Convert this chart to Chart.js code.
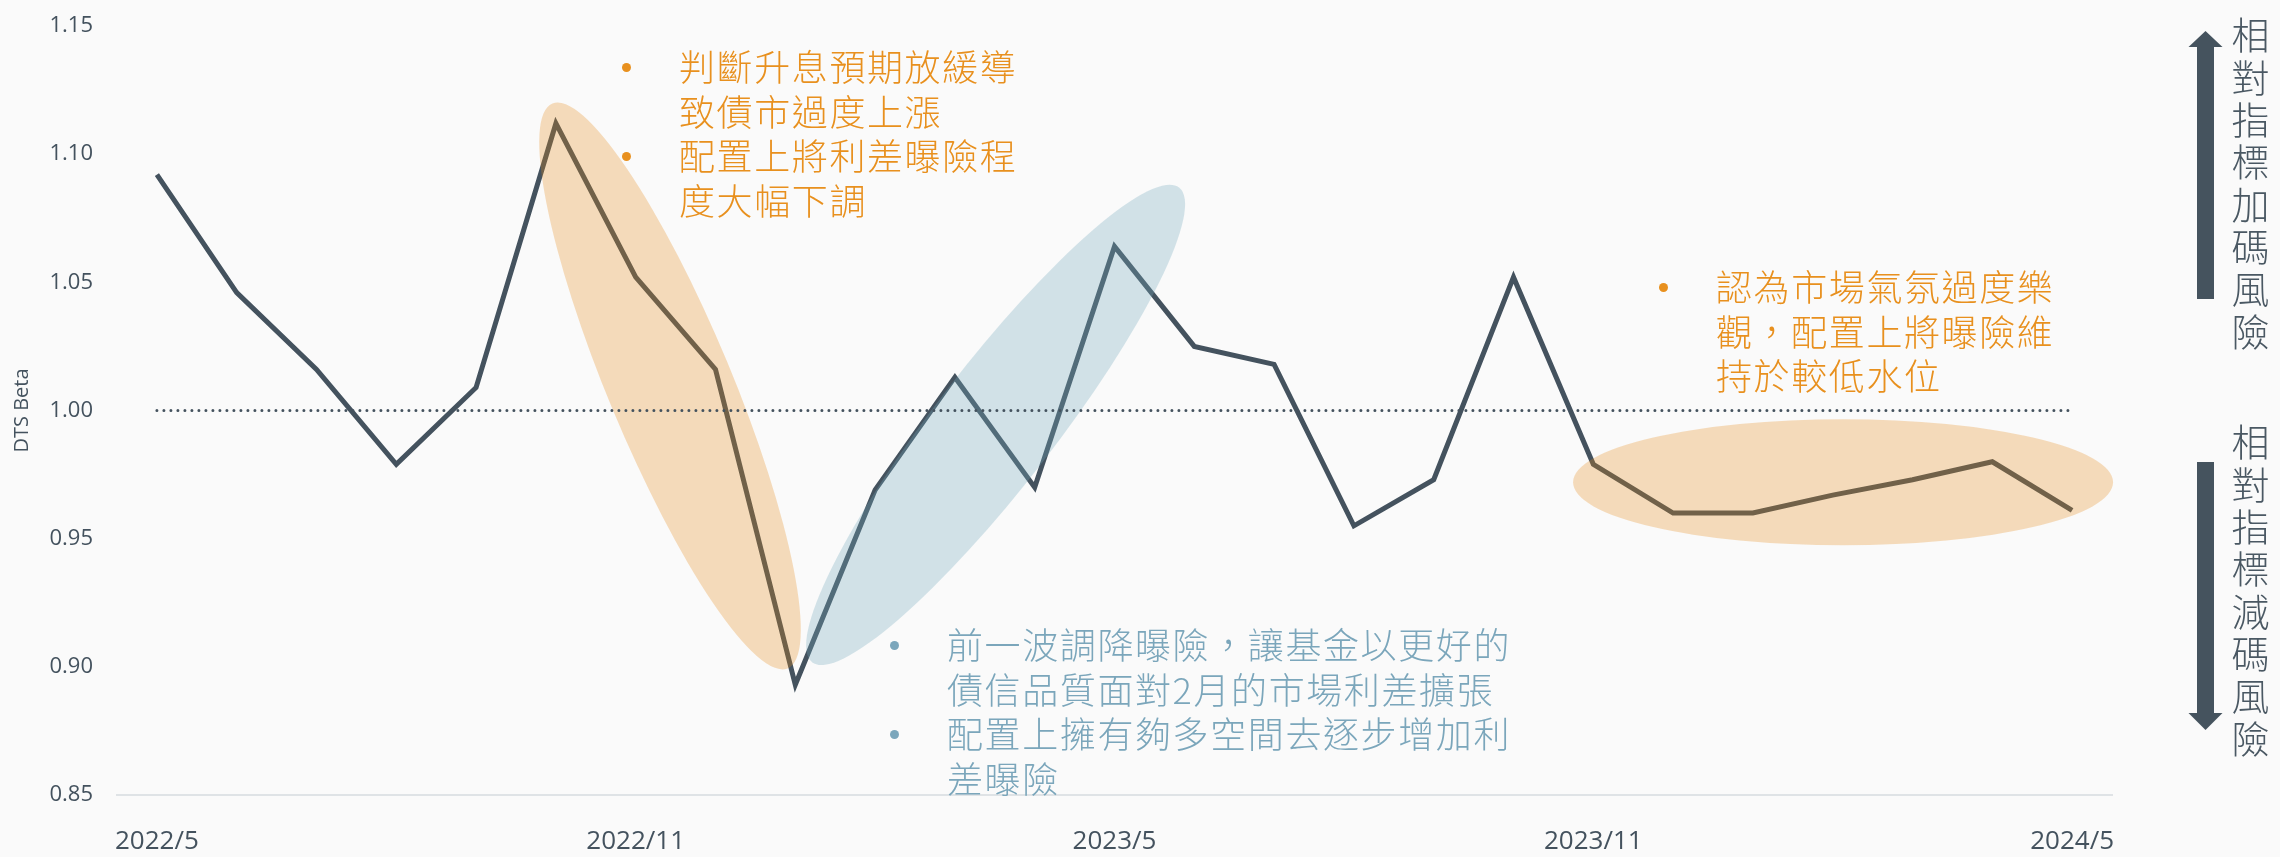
<!DOCTYPE html>
<html>
<head>
<meta charset="utf-8">
<script src="https://cdn.jsdelivr.net/npm/chart.js@4.4.1/dist/chart.umd.min.js"></script>
<style>
html, body { margin: 0; padding: 0; background: #fafafa; }
#wrap { position: relative; width: 2280px; height: 857px; overflow: hidden; }
#wrap canvas { position: absolute; left: 0; top: 0; }
.note { position: absolute; font-family: "Noto Sans CJK TC", "Noto Sans CJK SC", sans-serif; font-weight: 300; font-size: 36px; letter-spacing: 1.6px; }
.note div { position: relative; height: 44.5px; line-height: 44.5px; white-space: nowrap; }
.note .b::before { content: ''; position: absolute; left: -57px; top: calc(50% - 2.5px); width: 9px; height: 9px; border-radius: 50%; background: currentColor; }
.orange { color: #e8901e; }
.blue { color: #7ba6bb; }
.side { position: absolute; writing-mode: vertical-rl; font-family: "Noto Sans CJK TC", sans-serif; font-weight: 300; font-size: 38px; line-height: 38px; letter-spacing: 4.3px; color: #4a5863; }
</style>
</head>
<body>
<div id="wrap">
  <canvas id="dtsChart" width="2280" height="857"></canvas>

  <div class="note orange" style="left:679px; top:43px;">
    <div class="b">判斷升息預期放緩導</div>
    <div>致債市過度上漲</div>
    <div class="b">配置上將利差曝險程</div>
    <div>度大幅下調</div>
  </div>

  <div class="note blue" style="left:947px; top:621px;">
    <div class="b">前一波調降曝險，讓基金以更好的</div>
    <div>債信品質面對2月的市場利差擴張</div>
    <div class="b">配置上擁有夠多空間去逐步增加利</div>
    <div>差曝險</div>
  </div>

  <div class="note orange" style="left:1716px; top:263px;">
    <div class="b">認為市場氣氛過度樂</div>
    <div>觀，配置上將曝險維</div>
    <div>持於較低水位</div>
  </div>

  <div class="side" style="left:2231px; top:16px;">相對指標加碼風險</div>
  <div class="side" style="left:2231px; top:423px;">相對指標減碼風險</div>
</div>

<script>
var months = ['2022/5', '2022/6', '2022/7', '2022/8', '2022/9', '2022/10', '2022/11', '2022/12',
  '2023/1', '2023/2', '2023/3', '2023/4', '2023/5', '2023/6', '2023/7', '2023/8', '2023/9',
  '2023/10', '2023/11', '2023/12', '2024/1', '2024/2', '2024/3', '2024/4', '2024/5'];
var dtsBeta = [1.092, 1.046, 1.016, 0.979, 1.009, 1.112, 1.052, 1.016, 0.893, 0.969, 1.013, 0.970,
  1.064, 1.025, 1.018, 0.955, 0.973, 1.052, 0.979, 0.960, 0.960, 0.967, 0.973, 0.980, 0.961];
var xTickLabels = ['2022/5', '2022/11', '2023/5', '2023/11', '2024/5'];
var yTicks = [0.85, 0.90, 0.95, 1.00, 1.05, 1.10, 1.15];
var neutralLevel = 1.00;

// shaded highlight areas, centre in data units, radii in px
var highlights = [
  { x: 6.43, y: 1.0096, rx: 306, ry: 62, angle: 67.4, color: 'rgba(230,138,22,0.28)' },
  { x: 10.51, y: 0.9944, rx: 300, ry: 60, angle: -52.3, color: 'rgba(117,170,190,0.30)' },
  { x: 21.13, y: 0.972, rx: 270, ry: 63, angle: 0, color: 'rgba(230,138,22,0.28)' }
];

var slate = '#44525e';

function drawArrow(ctx, cx, shaftFrom, shaftTo, tip) {
  ctx.fillStyle = '#45535e';
  ctx.fillRect(cx - 8.5, Math.min(shaftFrom, shaftTo), 17, Math.abs(shaftTo - shaftFrom));
  var base = shaftFrom;
  ctx.beginPath();
  ctx.moveTo(cx - 17, base);
  ctx.lineTo(cx + 17, base);
  ctx.lineTo(cx, tip);
  ctx.closePath();
  ctx.fill();
}

var overlayPlugin = {
  id: 'overlay',
  afterDatasetsDraw: function (chart) {
    var ctx = chart.ctx;
    var x = chart.scales.x;
    var y = chart.scales.y;
    ctx.save();
    highlights.forEach(function (h) {
      ctx.beginPath();
      ctx.ellipse(x.getPixelForValue(h.x), y.getPixelForValue(h.y), h.rx, h.ry,
        h.angle * Math.PI / 180, 0, Math.PI * 2);
      ctx.fillStyle = h.color;
      ctx.fill();
    });

    // dotted neutral line
    var py = y.getPixelForValue(neutralLevel);
    ctx.beginPath();
    ctx.setLineDash([0, 7]);
    ctx.lineCap = 'round';
    ctx.lineWidth = 3;
    ctx.strokeStyle = slate;
    ctx.moveTo(x.getPixelForValue(0), py);
    ctx.lineTo(x.getPixelForValue(months.length - 1), py);
    ctx.stroke();
    ctx.setLineDash([]);

    drawArrow(ctx, 2205.5, 47, 299, 31);
    drawArrow(ctx, 2205.5, 713, 462, 730);
    ctx.restore();
  }
};

Chart.defaults.font.family = "'Open Sans', sans-serif";
Chart.defaults.color = slate;

var ctx = document.getElementById('dtsChart');
var myChart = new Chart(ctx, {
  type: 'line',
  data: {
    labels: months,
    datasets: [{
      label: 'DTS Beta',
      data: dtsBeta,
      borderColor: slate,
      borderWidth: 5,
      borderJoinStyle: 'miter',
      pointRadius: 0,
      tension: 0,
      fill: false
    }]
  },
  plugins: [overlayPlugin],
  options: {
    responsive: false,
    animation: false,
    devicePixelRatio: 1,
    layout: { padding: { left: 0, right: 168, top: 26, bottom: 0 } },
    plugins: { legend: { display: false }, tooltip: { enabled: false } },
    scales: {
      x: {
        offset: true,
        grid: { display: false, drawTicks: false },
        border: { display: true, color: '#dfe3e6', width: 2 },
        ticks: {
          autoSkip: false,
          maxRotation: 0,
          padding: 31,
          color: slate,
          font: { size: 26 },
          callback: function (v, i) {
            var l = months[i];
            return xTickLabels.indexOf(l) >= 0 ? l : '';
          }
        },
        afterFit: function (s) { s.height = 62; }
      },
      y: {
        min: 0.85,
        max: 1.15,
        grid: { display: false, drawTicks: false },
        border: { display: false },
        afterBuildTicks: function (s) {
          s.ticks = yTicks.map(function (v) { return { value: v }; });
        },
        ticks: {
          padding: 24,
          color: slate,
          font: { size: 22 },
          callback: function (v) { return v.toFixed(2); }
        },
        title: {
          display: true,
          text: 'DTS Beta',
          color: slate,
          font: { size: 20 },
          padding: { top: 10, bottom: 0 }
        },
        afterFit: function (s) {
          s.width = 117;
          s.paddingTop = 0;
          s.paddingBottom = 0;
        }
      }
    }
  }
});
</script>
</body>
</html>
